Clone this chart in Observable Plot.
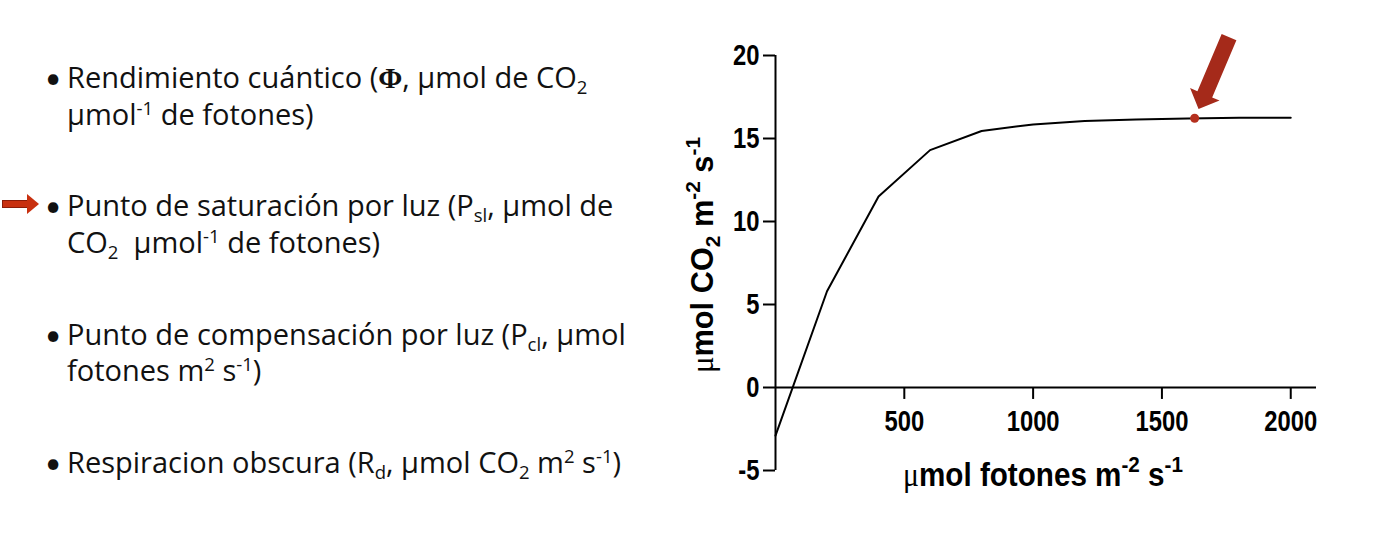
<!DOCTYPE html>
<html><head><meta charset="utf-8">
<script src="https://cdn.jsdelivr.net/npm/d3@7"></script>
<script src="https://cdn.jsdelivr.net/npm/@observablehq/plot@0.6"></script>
<style>
html,body{margin:0;padding:0;background:#fff;}
body{width:1383px;height:545px;position:relative;overflow:hidden;}
#notes{position:absolute;left:0;top:0;width:680px;height:545px;font-family:"Open Sans",sans-serif;font-size:29px;color:#111;font-variant-ligatures:none;}
.line{position:absolute;left:67px;white-space:nowrap;line-height:36px;height:36px;}
.bullet{position:absolute;left:45px;line-height:36px;font-family:Lato,sans-serif;font-size:28px;}
.phi{font-family:"Liberation Serif",serif;font-weight:bold;}
sub,sup{font-size:0.64em;line-height:0;}
sup{vertical-align:0.55em;}
sub{vertical-align:-0.3em;}
.arrowL{position:absolute;left:2px;top:200px;width:26px;height:8px;background:#c8300f;border:1px solid #8a1c08;box-sizing:border-box;}
.arrowHead{position:absolute;left:27px;top:194px;width:0;height:0;border-left:12px solid #c8300f;border-top:10px solid transparent;border-bottom:10px solid transparent;}
#chart{position:absolute;left:690px;top:0;}
#chart g[aria-label="y-axis tick"] path{stroke-width:2px;}
</style></head><body>
<div id="notes"></div>
<div id="chart"></div>
<script>
// ---- data ----
const light = [0, 200, 400, 600, 800, 1000, 1200, 1400, 1600, 1800, 2000];
const assimilation = [-2.9, 5.8, 11.5, 14.3, 15.45, 15.85, 16.05, 16.15, 16.2, 16.25, 16.25];
const saturationLight = [1627];
const saturationAssim = [16.22];
const xTicks = [500, 1000, 1500, 2000];
const yTicks = [-5, 0, 5, 10, 15, 20];
const xDomain = [0, 2100];
const yDomain = [-5, 20];
const noteItems = [
  ["Rendimiento cuántico (<b class='phi'>Φ</b>, μmol de CO<sub>2</sub>", "μmol<sup>-1</sup> de fotones)"],
  ["Punto de saturación por luz (P<sub>sl</sub>, μmol de", "CO<sub>2</sub>&nbsp; μmol<sup>-1</sup> de fotones)"],
  ["Punto de compensación por luz (P<sub>cl</sub>, μmol", "fotones m<sup>2</sup> s<sup>-1</sup>)"],
  ["Respiracion obscura (R<sub>d</sub>, μmol CO<sub>2</sub> m<sup>2</sup> s<sup>-1</sup>)"]
];
const highlightedItem = 1;

// ---- left notes ----
const notes = document.getElementById("notes");
noteItems.forEach((lines, i) => {
  const top0 = 59 + i * 128.3;
  const b = document.createElement("div");
  b.className = "bullet"; b.style.top = top0 + "px"; b.textContent = "•";
  notes.appendChild(b);
  lines.forEach((h, j) => {
    const d = document.createElement("div");
    d.className = "line"; d.style.top = (top0 + j * 36.5) + "px"; d.innerHTML = h;
    notes.appendChild(d);
  });
  if (i === highlightedItem) {
    const a = document.createElement("div"); a.className = "arrowL"; notes.appendChild(a);
    const h = document.createElement("div"); h.className = "arrowHead"; notes.appendChild(h);
  }
});

// ---- chart ----
const curve = light.map((x, i) => ({x, y: assimilation[i]}));
const sat = saturationLight.map((x, i) => ({x, y: saturationAssim[i]}));
const FONT = "'Liberation Sans Narrow','Arial Narrow','Liberation Sans',Arial,sans-serif";
const arrowShape = {
  draw(ctx) {
    ctx.moveTo(0, 10); ctx.lineTo(16, 26); ctx.lineTo(8, 26); ctx.lineTo(8, 88);
    ctx.lineTo(-8, 88); ctx.lineTo(-8, 26); ctx.lineTo(-16, 26); ctx.closePath();
  }
};
const W = 680, H = 545, ML = 85, MT = 55;
const plot = Plot.plot({
  width: W, height: H,
  marginLeft: ML, marginRight: 54, marginTop: MT, marginBottom: 75,
  style: {fontFamily: FONT, fontSize: "29px", fontWeight: "bold", color: "#000", background: "transparent", overflow: "visible"},
  x: {domain: xDomain, axis: null},
  y: {domain: yDomain, ticks: yTicks, tickSize: 12, tickPadding: 4, tickFormat: d => String(d), label: null},
  marks: [
    Plot.ruleX([0], {y1: yDomain[0], y2: yDomain[1], stroke: "#000", strokeWidth: 2}),
    Plot.ruleY([0], {x1: xDomain[0], x2: xDomain[1], stroke: "#000", strokeWidth: 2}),
    Plot.ruleX(xTicks, {x: d => d, y1: 0, y2: -0.72, stroke: "#000", strokeWidth: 2}),
    Plot.text(xTicks, {x: d => d, y: 0, dy: 34, text: d => String(d), fill: "#000"}),
    Plot.line(curve, {x: "x", y: "y", stroke: "#000", strokeWidth: 2}),
    Plot.dot(sat, {x: "x", y: "y", r: 4.5, fill: "#b5301e", stroke: "none"}),
    Plot.dot(sat, {x: "x", y: "y", symbol: arrowShape, rotate: 203, fill: "#a52a1a", stroke: "none"})
  ]
});
document.getElementById("chart").appendChild(plot);

const svg = d3.select(plot);
// narrow the tick labels (Arial Narrow look)
const narrowed = [];
svg.selectAll("text").each(function() { narrowed.push(this); });
narrowed.forEach(t => {
  const L = t.getComputedTextLength();
  if (L > 0) { t.setAttribute("textLength", (L * 0.82).toFixed(1)); t.setAttribute("lengthAdjust", "spacingAndGlyphs"); }
});

// axis titles with sub/superscripts, horizontally condensed by a scale transform
function title(parent, size, supSize, parts) {
  const g = parent.append("g");
  const t = g.append("text").attr("text-anchor", "middle").attr("fill", "#000")
    .style("font-family", FONT).style("font-size", size + "px").style("font-weight", "bold");
  let shift = 0;
  parts.forEach(([txt, kind]) => {
    const s = t.append("tspan").text(txt);
    let target = 0;
    if (kind === "mu") s.style("font-family", "'Liberation Serif',serif").style("font-weight", "normal");
    if (kind === "sup") { s.style("font-size", supSize + "px"); target = -Math.round(size * 0.42); }
    if (kind === "sub") { s.style("font-size", supSize + "px"); target = Math.round(size * 0.22); }
    s.attr("dy", target - shift); shift = target;
  });
  return {g, t};
}
const yT = title(svg, 31, 21, [["μ", "mu"], ["mol CO"], ["2", "sub"], [" m"], ["-2", "sup"], [" s"], ["-1", "sup"]]);
const yLen = yT.t.node().getComputedTextLength();
yT.g.attr("transform", `translate(23, 255) rotate(-90) scale(${(236 / yLen).toFixed(3)}, 1)`);

const xT = title(svg, 33, 23, [["μ", "mu"], ["mol fotones m"], ["-2", "sup"], [" s"], ["-1", "sup"]]);
const xLen = xT.t.node().getComputedTextLength();
xT.g.attr("transform", `translate(353, 486) scale(${(280 / xLen).toFixed(3)}, 1)`);
</script>
</body></html>
